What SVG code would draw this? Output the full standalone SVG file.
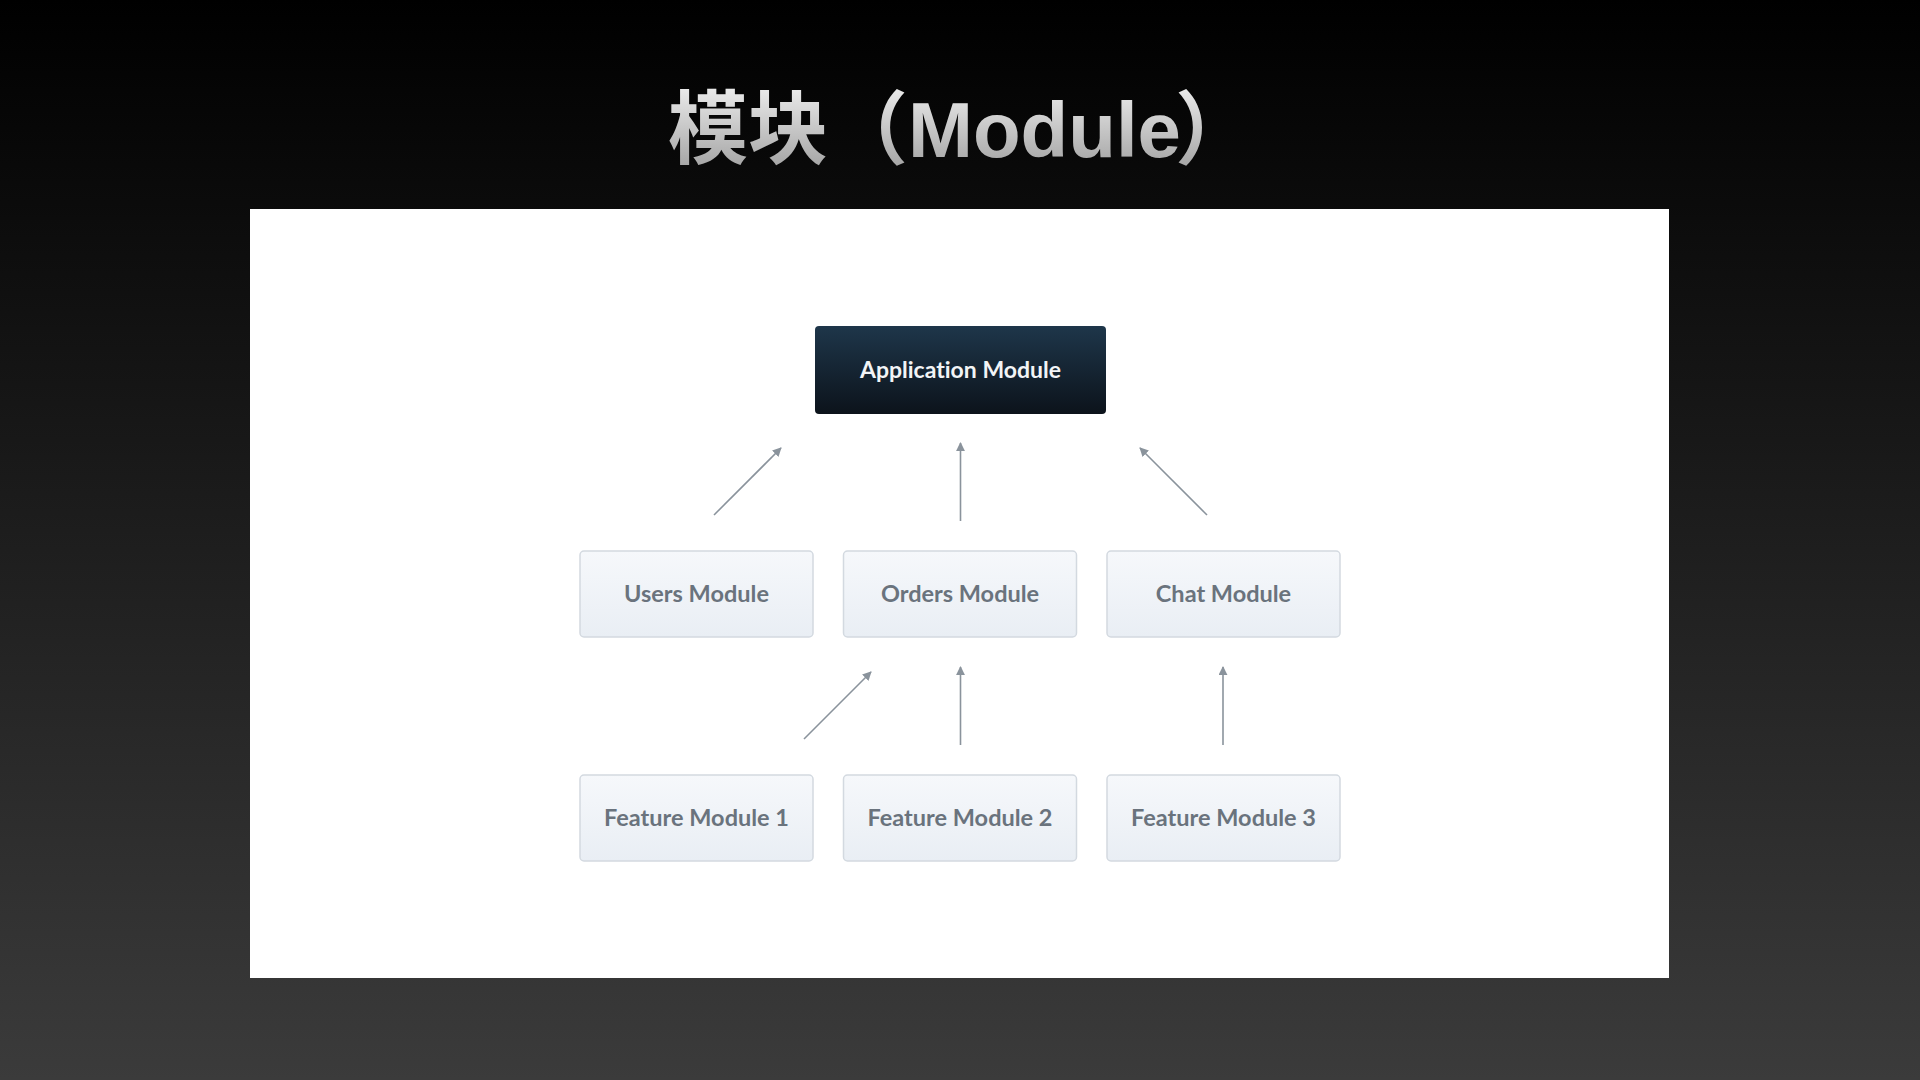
<svg xmlns="http://www.w3.org/2000/svg" width="1920" height="1080" viewBox="0 0 1920 1080">
  <defs>
    <linearGradient id="bg" x1="0" y1="0" x2="0" y2="1">
      <stop offset="0" stop-color="#000000"/>
      <stop offset="1" stop-color="#3b3b3b"/>
    </linearGradient>
    <linearGradient id="titleGrad" x1="0" y1="0" x2="0" y2="1">
      <stop offset="0" stop-color="#ffffff"/>
      <stop offset="1" stop-color="#9a9a9a"/>
    </linearGradient>
    <linearGradient id="darkGrad" x1="0" y1="0" x2="0" y2="1">
      <stop offset="0" stop-color="#1e364a"/>
      <stop offset="1" stop-color="#0c131b"/>
    </linearGradient>
    <linearGradient id="lightGrad" x1="0" y1="0" x2="0" y2="1">
      <stop offset="0" stop-color="#f6f8fb"/>
      <stop offset="1" stop-color="#e9eef4"/>
    </linearGradient>
    <marker id="arrow" viewBox="0 0 10 10" refX="9" refY="5" markerWidth="9" markerHeight="9" markerUnits="userSpaceOnUse" orient="auto">
      <path d="M0,0 L10,5 L0,10 Z" fill="#8a939c"/>
    </marker>
  </defs>
  <style>
    .light { fill: url(#lightGrad); stroke: #d3d9e0; stroke-width: 1.5; }
    .dark { fill: url(#darkGrad); }
    .lbl { font-family: Lato, "Open Sans", "Liberation Sans", sans-serif; font-weight: 700; font-size: 23.5px; fill: #6a737d; text-anchor: middle; font-variant-ligatures: none; }
    .lblw { font-family: Lato, "Open Sans", "Liberation Sans", sans-serif; font-weight: 700; font-size: 23px; fill: #f2f4f6; text-anchor: middle; font-variant-ligatures: none; }
    .conn line { stroke: #8a939c; stroke-width: 1.6; fill: none; marker-end: url(#arrow); }
  </style>

  <rect x="0" y="0" width="1920" height="1080" fill="url(#bg)"/>
  <text id="title" x="668" y="157" font-weight="700" fill="url(#titleGrad)" font-family="'Noto Sans CJK SC', sans-serif" font-size="80"><tspan>模块（</tspan><tspan font-family="'Liberation Sans', sans-serif" font-size="78">Module</tspan><tspan dx="-6">）</tspan></text>

  <rect x="250" y="209" width="1419" height="769" fill="#ffffff"/>

  <g id="app-module">
    <rect class="dark" x="815" y="326" width="291" height="88" rx="4"/>
    <text class="lblw" x="960.5" y="378">Application Module</text>
  </g>
  <g id="users-module">
    <rect class="light" x="580" y="551" width="233" height="86" rx="4"/>
    <text class="lbl" x="696.5" y="602">Users Module</text>
  </g>
  <g id="orders-module">
    <rect class="light" x="843.5" y="551" width="233" height="86" rx="4"/>
    <text class="lbl" x="960" y="602">Orders Module</text>
  </g>
  <g id="chat-module">
    <rect class="light" x="1107" y="551" width="233" height="86" rx="4"/>
    <text class="lbl" x="1223.5" y="602">Chat Module</text>
  </g>
  <g id="feature-module-1">
    <rect class="light" x="580" y="775" width="233" height="86" rx="4"/>
    <text class="lbl" x="696.5" y="826">Feature Module 1</text>
  </g>
  <g id="feature-module-2">
    <rect class="light" x="843.5" y="775" width="233" height="86" rx="4"/>
    <text class="lbl" x="960" y="826">Feature Module 2</text>
  </g>
  <g id="feature-module-3">
    <rect class="light" x="1107" y="775" width="233" height="86" rx="4"/>
    <text class="lbl" x="1223.5" y="826">Feature Module 3</text>
  </g>

  <g id="connectors" class="conn">
    <line x1="714" y1="515" x2="781" y2="448"/>
    <line x1="960.5" y1="521" x2="960.5" y2="443"/>
    <line x1="1207" y1="515" x2="1140" y2="448"/>
    <line x1="804" y1="739" x2="871" y2="672"/>
    <line x1="960.5" y1="745" x2="960.5" y2="667"/>
    <line x1="1223" y1="745" x2="1223" y2="667"/>
  </g>
</svg>
